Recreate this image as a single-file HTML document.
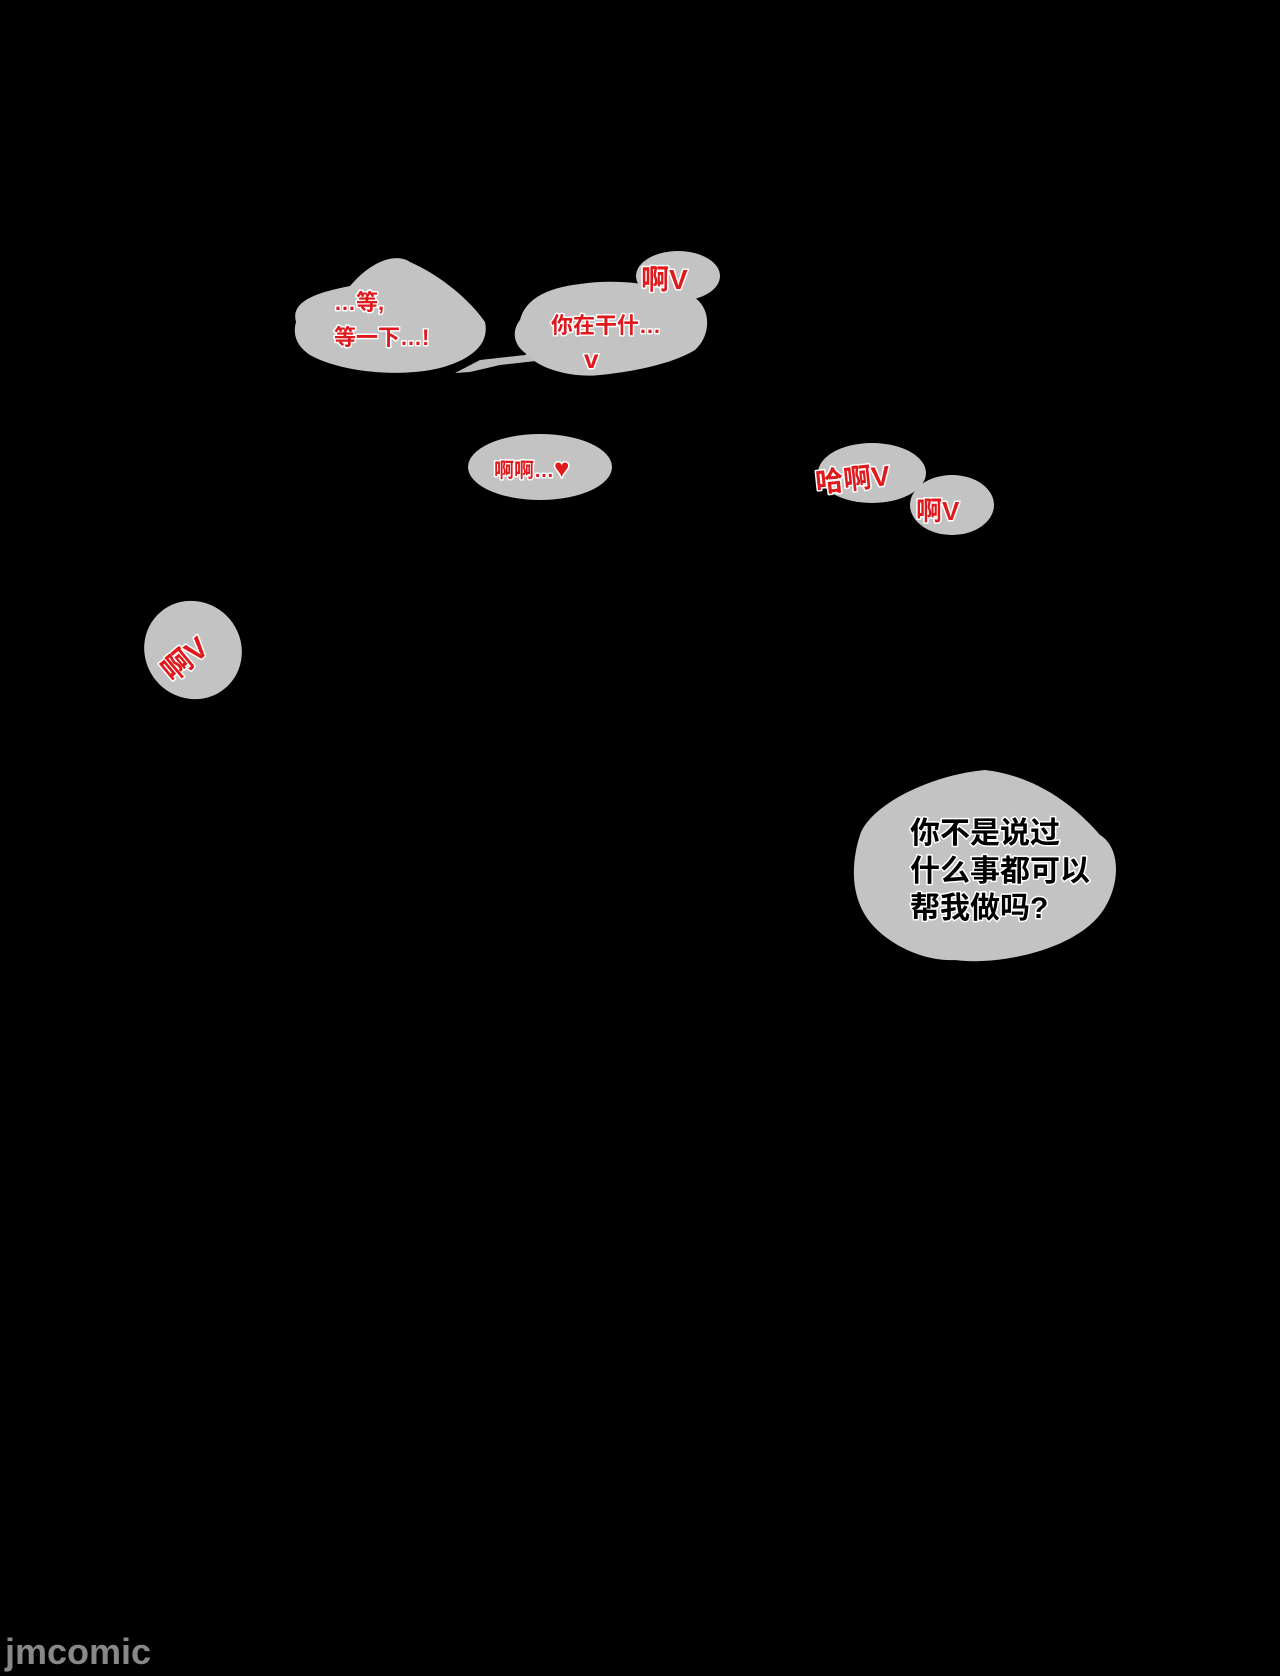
<!DOCTYPE html>
<html><head><meta charset="utf-8"><style>
html,body{margin:0;padding:0;background:#000;}
svg{display:block}
text{font-family:"Liberation Sans","Noto Sans CJK SC",sans-serif;font-weight:bold;paint-order:stroke;stroke:#fff;stroke-linejoin:round}
.r{fill:#e0191c;stroke-width:3}
.k{fill:#000;stroke-width:3}
</style></head><body>
<svg width="1280" height="1676" viewBox="0 0 1280 1676" xmlns="http://www.w3.org/2000/svg">
<rect width="1280" height="1676" fill="#000"/>
<g fill="#c3c3c3">
<path d="M296 322 C290 300 320 292 350 286 C370 262 395 252 410 262 C440 275 470 300 485 322 C490 345 470 360 440 368 C400 378 340 372 310 355 C295 345 293 333 296 322Z"/>
<path d="M455 373 L480 360 L525 355 L540 345 L545 360 L500 365 L470 372Z" fill="#bbb"/>
<path d="M520 320 C525 300 545 288 580 284 C620 278 660 285 690 295 C712 305 712 335 695 350 C670 365 630 372 600 375 C575 378 540 370 528 355 C512 345 512 330 520 320Z"/>
<ellipse cx="678" cy="276" rx="42" ry="25"/>
<ellipse cx="540" cy="467" rx="72" ry="33"/>
<ellipse cx="872" cy="473" rx="54" ry="30"/>
<ellipse cx="952" cy="505" rx="42" ry="30"/>
<ellipse cx="193" cy="650" rx="48" ry="50" transform="rotate(-40 193 650)"/>
<path d="M860 835 C870 805 930 775 985 770 C1030 775 1070 800 1100 835 C1125 850 1120 900 1090 925 C1055 955 990 965 955 960 C920 962 880 940 865 915 C850 890 852 860 860 835Z"/>
</g>
<text class="r" x="334" y="310" font-size="22">…等,</text>
<text class="r" x="334" y="345" font-size="22">等一下…!</text>
<text class="r" x="551" y="333" font-size="22">你在干什…</text>
<text class="r" x="584" y="368" font-size="26">v</text>
<text class="r" x="641" y="289" font-size="28">啊V</text>
<text class="r" x="494" y="477" font-size="20">啊啊…<tspan font-size="26">♥</tspan></text>
<text class="r" x="815" y="487" font-size="28" transform="rotate(-6 870 475)">哈啊V</text>
<text class="r" x="916" y="520" font-size="26">啊V</text>
<text class="r" x="156" y="662" font-size="30" transform="rotate(-40 193 650)">啊V</text>
<text class="k" x="910" y="843" font-size="30">你不是说过</text>
<text class="k" x="910" y="881" font-size="30">什么事都可以</text>
<text class="k" x="910" y="918" font-size="30">帮我做吗?</text>
<text x="5" y="1664" font-size="36" fill="#888" style="stroke:none;font-weight:bold">jmcomic</text>
</svg>
</body></html>
